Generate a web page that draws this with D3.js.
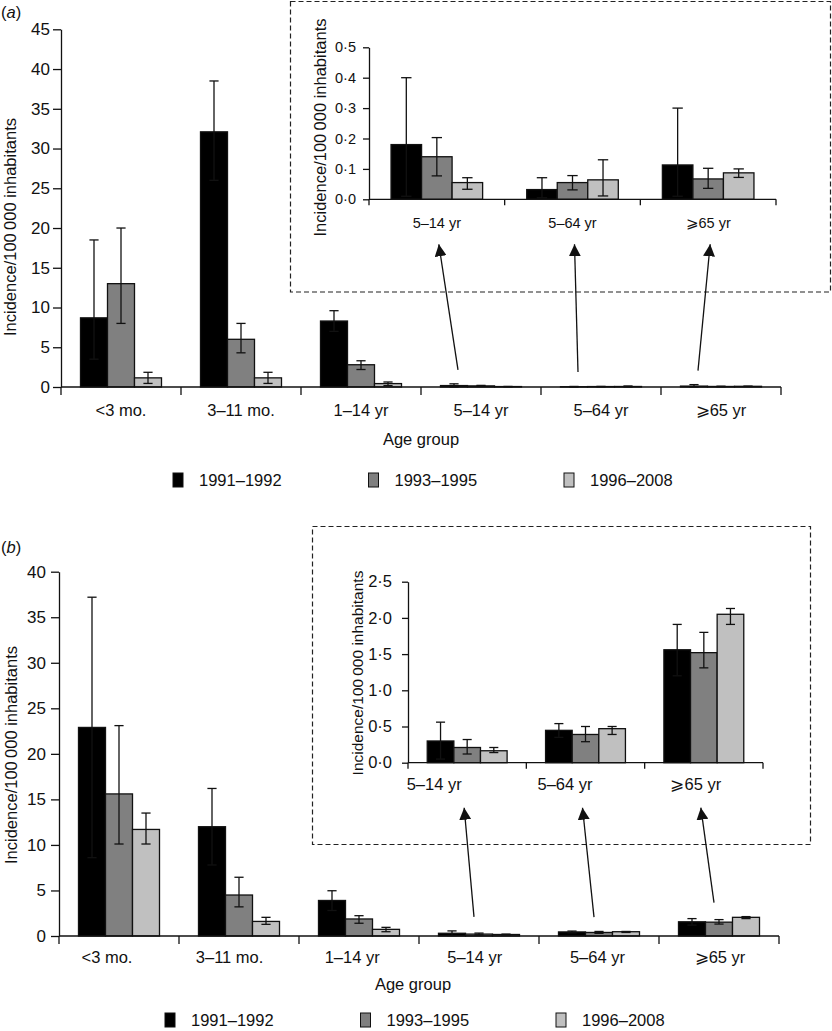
<!DOCTYPE html>
<html>
<head>
<meta charset="utf-8">
<script src="https://cdn.jsdelivr.net/npm/d3@7"></script>
<style>
  body { margin: 0; background: #fff; }
  svg { display: block; font-family: "Liberation Sans", Arial, Helvetica, sans-serif; }
</style>
</head>
<body>
<svg id="chart" width="832" height="1031"></svg>
<script>
const categories = ['<3 mo.', '3–11 mo.', '1–14 yr', '5–14 yr', '5–64 yr', '⩾65 yr'];
const insetCategories = ['5–14 yr', '5–64 yr', '⩾65 yr'];
const series = ['1991–1992', '1993–1995', '1996–2008'];

// panel (a): rows = age group, columns = period
const meanA = [
    [8.7, 13.0, 1.15],
    [32.1, 6.0, 1.15],
    [8.3, 2.8, 0.43],
    [0.18, 0.14, 0.055],
    [0.032, 0.055, 0.064],
    [0.113, 0.067, 0.087]
];
const lowA = [
    [3.5, 8.0, 0.45],
    [26.0, 4.3, 0.45],
    [7.0, 2.2, 0.17],
    [0.01, 0.077, 0.033],
    [0.005, 0.031, 0.011],
    [0.01, 0.036, 0.072]
];
const highA = [
    [18.5, 20.0, 1.85],
    [38.5, 8.0, 1.85],
    [9.6, 3.3, 0.63],
    [0.40, 0.203, 0.071],
    [0.071, 0.078, 0.13],
    [0.30, 0.102, 0.10]
];

// panel (b)
const meanB = [
    [22.9, 15.6, 11.7],
    [12.0, 4.5, 1.6],
    [3.9, 1.87, 0.73],
    [0.30, 0.21, 0.165],
    [0.447, 0.39, 0.47],
    [1.56, 1.52, 2.05]
];
const lowB = [
    [8.6, 10.1, 10.1],
    [7.8, 3.2, 1.28],
    [2.8, 1.4, 0.47],
    [0.05, 0.12, 0.14],
    [0.35, 0.29, 0.39],
    [1.2, 1.31, 1.91]
];
const highB = [
    [37.2, 23.1, 13.5],
    [16.2, 6.45, 2.05],
    [4.97, 2.23, 0.95],
    [0.56, 0.32, 0.21],
    [0.54, 0.50, 0.50],
    [1.91, 1.80, 2.13]
];

const ticksMainA = [0, 5, 10, 15, 20, 25, 30, 35, 40, 45];
const ticksInsetA = [0, 0.1, 0.2, 0.3, 0.4, 0.5];
const ticksMainB = [0, 5, 10, 15, 20, 25, 30, 35, 40];
const ticksInsetB = [0, 0.5, 1.0, 1.5, 2.0, 2.5];

const yTitle = 'Incidence/100\u2009000 inhabitants';
const fills = ['#000000', '#808080', '#c0c0c0'];
const ink = '#111';

const svg = d3.select('#chart');

const dotFmt = d => d3.format('.1f')(d).replace('.', '·');

function drawPanel(cfg) {
    const cats = cfg.rows.map(i => categories[i]);
    const x = d3.scaleBand().domain(cats).range(cfg.xr)
        .paddingInner(0.325).paddingOuter(0.1625);
    const xs = d3.scaleBand().domain(series).range([0, x.bandwidth()]);
    const y = d3.scaleLinear()
        .domain([0, cfg.ticks[cfg.ticks.length - 1]]).range(cfg.yr);

    const g = svg.append('g');

    const rows = cfg.rows.map(i => series.map((s, j) => ({
        s, j,
        v: cfg.mean[i][j], lo: cfg.low[i][j], hi: cfg.high[i][j]
    })));

    const grp = g.selectAll('g.grp')
        .data(rows)
        .join('g')
        .attr('class', 'grp')
        .attr('transform', (d, k) => `translate(${x(cats[k])},0)`);

    grp.selectAll('rect')
        .data(d => d)
        .join('rect')
        .attr('x', d => xs(d.s))
        .attr('width', xs.bandwidth())
        .attr('y', d => y(d.v))
        .attr('height', d => y(0) - y(d.v))
        .attr('fill', d => fills[d.j])
        .attr('stroke', ink)
        .attr('stroke-width', 1.3);

    // error bars
    const cap = xs.bandwidth() * 0.17;
    const eb = grp.selectAll('g.err')
        .data(d => d)
        .join('g')
        .attr('class', 'err')
        .attr('stroke', ink)
        .attr('stroke-width', 1.3);
    const cx = d => xs(d.s) + xs.bandwidth() / 2;
    eb.append('line')
        .attr('x1', cx).attr('x2', cx)
        .attr('y1', d => y(d.lo)).attr('y2', d => y(d.hi));
    eb.append('line')
        .attr('x1', d => cx(d) - cap).attr('x2', d => cx(d) + cap)
        .attr('y1', d => y(d.hi)).attr('y2', d => y(d.hi));
    eb.append('line')
        .attr('x1', d => cx(d) - cap).attr('x2', d => cx(d) + cap)
        .attr('y1', d => y(d.lo)).attr('y2', d => y(d.lo));

    // y axis
    const ya = g.append('g')
        .attr('transform', `translate(${cfg.xr[0]},0)`)
        .call(d3.axisLeft(y).tickValues(cfg.ticks).tickFormat(cfg.fmt)
            .tickSize(cfg.tickSize).tickPadding(cfg.tickPad).tickSizeOuter(0));
    ya.selectAll('path, line').attr('stroke', ink).attr('stroke-width', 1.3);
    ya.selectAll('text')
        .attr('fill', ink)
        .style('font-size', cfg.tickFont + 'px')
        .style('font-family', 'inherit');

    // x axis with ticks on band boundaries
    const xa = g.append('g').attr('stroke', ink).attr('stroke-width', 1.3);
    xa.append('line')
        .attr('x1', cfg.xr[0]).attr('x2', cfg.xr[1])
        .attr('y1', y(0)).attr('y2', y(0));
    xa.selectAll('line.tk')
        .data(d3.range(cats.length + 1))
        .join('line')
        .attr('class', 'tk')
        .attr('x1', i => cfg.xr[0] + i * x.step())
        .attr('x2', i => cfg.xr[0] + i * x.step())
        .attr('y1', y(0)).attr('y2', y(0) + cfg.xTick);

    g.append('g')
        .selectAll('text')
        .data(cats)
        .join('text')
        .attr('x', (c, k) => x(c) + x.bandwidth() / 2 + cfg.labDx0 + k * cfg.labDx)
        .attr('y', cfg.labY)
        .attr('text-anchor', 'middle')
        .attr('fill', ink)
        .style('font-size', cfg.catFont + 'px')
        .text(c => c);

    // rotated y title
    g.append('text')
        .attr('transform', `translate(${cfg.titleX},${cfg.titleY}) rotate(-90)`)
        .attr('text-anchor', 'middle')
        .attr('fill', ink)
        .style('font-size', cfg.titleFont + 'px')
        .text(yTitle);

    return { x, y };
}

function drawLegend(x0, top) {
    const lg = svg.append('g');
    const it = lg.selectAll('g')
        .data(series)
        .join('g')
        .attr('transform', (d, i) => `translate(${x0 + i * 195.5},${top})`);
    it.append('rect')
        .attr('width', 10).attr('height', 14)
        .attr('fill', (d, i) => fills[i])
        .attr('stroke', ink).attr('stroke-width', 1);
    it.append('text')
        .attr('x', 26).attr('y', 12.5)
        .attr('fill', ink)
        .style('font-size', '16.5px')
        .text(d => d);
}

function drawArrows(main, inset, startDx, endDx) {
    insetCategories.forEach(c => {
        const i = categories.indexOf(c);
        const hi = d3.max(main.high[i]);
        const x1 = main.s.x(c) + main.s.x.bandwidth() / 2 + startDx;
        const y1 = main.s.y(hi) - 14;
        const x2 = inset.x(c) + inset.x.bandwidth() / 2 + endDx;
        const y2 = inset.y(0) + 45;
        svg.append('line')
            .attr('x1', x1).attr('y1', y1)
            .attr('x2', x2).attr('y2', y2)
            .attr('stroke', ink).attr('stroke-width', 1.3)
            .attr('marker-end', 'url(#head)');
    });
}

function panelLabel(letter, baseY) {
    const t = svg.append('text')
        .attr('x', 1).attr('y', baseY)
        .attr('fill', ink)
        .style('font-size', '16.5px');
    t.append('tspan').text('(');
    t.append('tspan').style('font-style', 'italic').text(letter);
    t.append('tspan').text(')');
}

svg.append('defs')
    .append('marker')
    .attr('id', 'head')
    .attr('viewBox', '0 -6 12 12')
    .attr('refX', 12).attr('refY', 0)
    .attr('markerWidth', 12).attr('markerHeight', 12)
    .attr('markerUnits', 'userSpaceOnUse')
    .attr('orient', 'auto')
    .append('path')
    .attr('d', 'M0,-6L12,0L0,6Z')
    .attr('fill', ink);

// dashed inset frames
const frame = (x, y, w, h) => svg.append('rect')
    .attr('x', x).attr('y', y).attr('width', w).attr('height', h)
    .attr('fill', 'none').attr('stroke', '#222')
    .attr('stroke-width', 1.2).attr('stroke-dasharray', '5,3');
frame(290.5, 1.5, 540, 290.5);
frame(312.5, 526.5, 498, 318);

// ---- panel (a)
panelLabel('a', 18);
const mainA = drawPanel({
    rows: [0, 1, 2, 3, 4, 5], mean: meanA, low: lowA, high: highA,
    xr: [61, 781], yr: [387, 29.3], ticks: ticksMainA, fmt: d => d,
    tickSize: 8, tickPad: 3, tickFont: 17, xTick: 8,
    labY: 416, labDx0: 0, labDx: 0, catFont: 16.5,
    titleX: 16, titleY: 227, titleFont: 16.5
});
const insetA = drawPanel({
    rows: [3, 4, 5], mean: meanA, low: lowA, high: highA,
    xr: [369, 776], yr: [199.3, 47.3], ticks: ticksInsetA, fmt: dotFmt,
    tickSize: 6, tickPad: 7, tickFont: 14.5, xTick: 6,
    labY: 228, labDx0: 0, labDx: 0, catFont: 14.5,
    titleX: 326, titleY: 127.5, titleFont: 16.5
});
svg.append('text')
    .attr('x', 421).attr('y', 445)
    .attr('text-anchor', 'middle').attr('fill', ink)
    .style('font-size', '16.5px').text('Age group');
drawLegend(173, 473);
drawArrows({ s: mainA, high: highA }, insetA, -23, 2);

// ---- panel (b)
panelLabel('b', 553);
const mainB = drawPanel({
    rows: [0, 1, 2, 3, 4, 5], mean: meanB, low: lowB, high: highB,
    xr: [59, 779], yr: [936, 571.7], ticks: ticksMainB, fmt: d => d,
    tickSize: 8, tickPad: 5, tickFont: 17, xTick: 8,
    labY: 963, labDx0: -12, labDx: 2.6, catFont: 16.5,
    titleX: 17, titleY: 755, titleFont: 16.5
});
const insetB = drawPanel({
    rows: [3, 4, 5], mean: meanB, low: lowB, high: highB,
    xr: [408, 763], yr: [762.7, 581.7], ticks: ticksInsetB, fmt: dotFmt,
    tickSize: 6, tickPad: 10, tickFont: 16.5, xTick: 6,
    labY: 790, labDx0: -33, labDx: 12.5, catFont: 16.5,
    titleX: 363, titleY: 673, titleFont: 15.5
});
svg.append('text')
    .attr('x', 413).attr('y', 990)
    .attr('text-anchor', 'middle').attr('fill', ink)
    .style('font-size', '16.5px').text('Age group');
drawLegend(165, 1013);
drawArrows({ s: mainB, high: highB }, insetB, -5, -3);
</script>
</body>
</html>
